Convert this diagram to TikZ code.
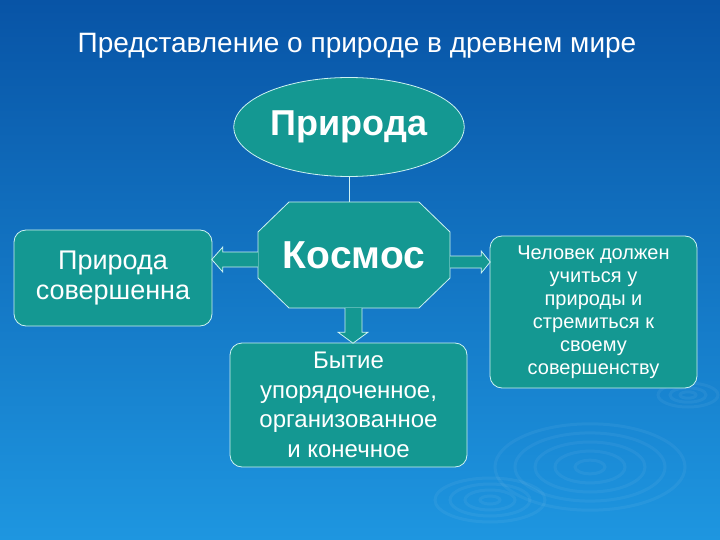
\documentclass[tikz,border=0pt]{standalone}
\usepackage{fontspec}
\setmainfont{Liberation Sans}
\usetikzlibrary{shapes.geometric,calc}
\definecolor{bgtop}{RGB}{8,84,166}
\definecolor{bgbottom}{RGB}{30,150,224}
\definecolor{tealfill}{RGB}{20,152,146}
\definecolor{edgeline}{RGB}{205,242,242}
\begin{document}
\begin{tikzpicture}[x=1pt, y=-1pt,
    box/.style={draw=edgeline, fill=tealfill, line width=0.8pt, rounded corners=12pt, text=white, align=center},
    barrow/.style={draw=edgeline, fill=tealfill, line width=0.8pt},
    ripple/.style={white, opacity=0.05, line width=3pt}]
    \shade[top color=bgtop, bottom color=bgbottom] (0,0) rectangle (720,540);
    \useasboundingbox (0,0) rectangle (720,540);
    % \foreach over the ripples in the water
    \foreach \r in {15,35,55,75,95} {\draw[ripple] (590,467) ellipse ({\r} and {\r/2.2});}
    \foreach \r in {10,25,40,55} {\draw[ripple] (490,500) ellipse ({\r} and {\r/2.5});}
    \foreach \r in {8,18,30} {\draw[ripple] (688,395) ellipse ({\r} and {\r/2.5});}

    \node[text=white, font=\fontsize{28}{30}\selectfont] (title) at (357,46) {Представление о природе в древнем мире};

    \node[ellipse, draw=edgeline, fill=tealfill, line width=0.8pt, text=white, minimum width=222, minimum height=99, font=\bfseries\fontsize{36}{40}\selectfont] (priroda) at (349,127) {Природа};

    % octagon drawn by hand, the node only carries the text
    \coordinate (kc) at (354,255);
    \draw[barrow] ($(kc)+(-65,-53)$) -- ($(kc)+(65,-53)$) -- ($(kc)+(96,-23)$) -- ($(kc)+(96,23)$) -- ($(kc)+(65,53)$) -- ($(kc)+(-65,53)$) -- ($(kc)+(-96,23)$) -- ($(kc)+(-96,-23)$) -- cycle;
    \node[text=white, minimum width=192, minimum height=106, font=\bfseries\fontsize{39}{44}\selectfont] (kosmos) at (kc) {Космос};
    \draw[edgeline, line width=0.8pt] (priroda.south) -- (priroda.south |- kosmos.north);

    \node[box, minimum width=198, minimum height=96, font=\fontsize{27}{30}\selectfont] (perfect) at (113,278) {Природа\\совершенна};

    \node[box, minimum width=237, minimum height=124, font=\fontsize{24}{29.5}\selectfont] (bytie) at (348.5,405) {Бытие\\упорядоченное,\\организованное\\и конечное};

    \node[box, minimum width=207, minimum height=152, font=\fontsize{20}{23}\selectfont] (human) at (593.5,312) {Человек должен\\учиться у\\природы и\\стремиться к\\своему\\совершенству};

    \draw[barrow] ($(kosmos.west)+(0,-3)$) -- ++(-35,0) -- ++(0,-5) -- ++(-11,12.5) -- ++(11,12.5) -- ++(0,-5) -- ++(35,0);
    \draw[barrow] ($(kosmos.east)+(0,1)$) -- ++(31,0) -- ++(0,-5) -- ++(9,11) -- ++(-9,11) -- ++(0,-5) -- ++(-31,0);
    \draw[barrow] ($(kosmos.south)+(-9,0)$) -- ++(0,24) -- ++(-7,0) -- ++(15,11) -- ++(15,-11) -- ++(-6,0) -- ++(0,-24);
\end{tikzpicture}
\end{document}
